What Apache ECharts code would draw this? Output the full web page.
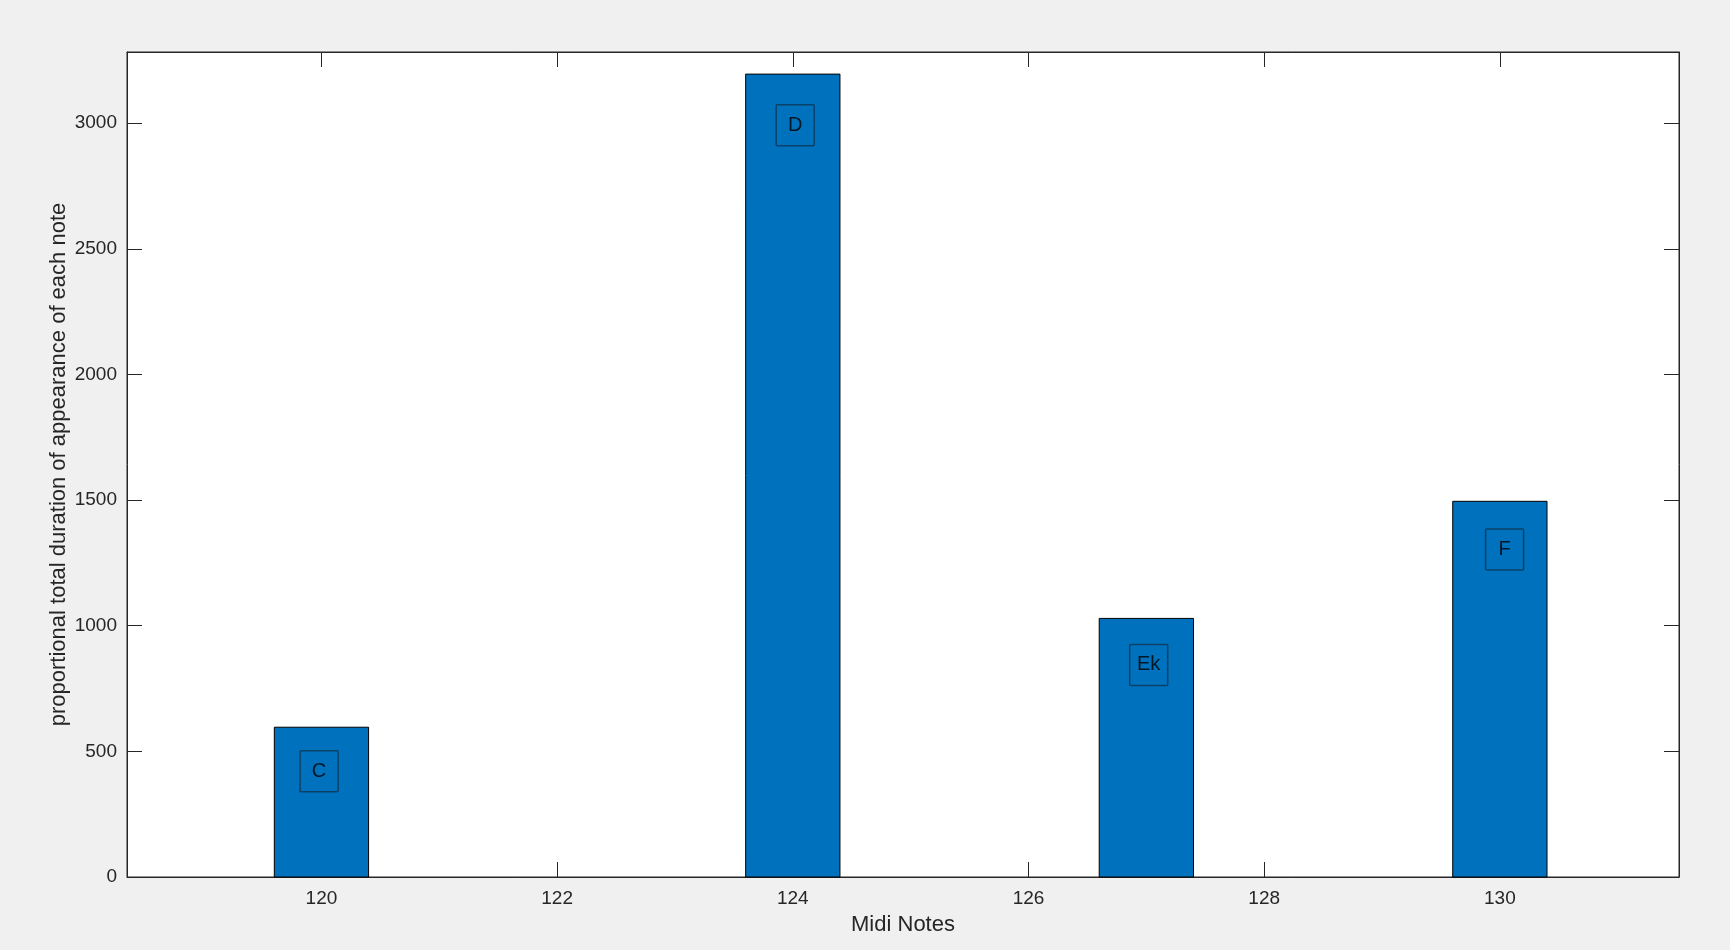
<!DOCTYPE html>
<html>
<head>
<meta charset="utf-8">
<script src="https://cdn.jsdelivr.net/npm/echarts@6/dist/echarts.min.js"></script>
<style>
  html, body { margin: 0; padding: 0; background: #f0f0f0; }
  #barChart { width: 1730px; height: 950px; }
</style>
</head>
<body>
<div id="barChart"></div>
<script>
// midi notes and durations
const notes = [120, 124, 127, 130];
const durations = [596, 3195, 1029, 1495];
const noteNames = ["C", "D", "Ek", "F"];
// where each boxed text annotation sits (data coords)
const labelX = [119.98, 124.02, 127.02, 130.04];
const labelY = [421, 2992, 844, 1303];
const xTicks = [120, 122, 124, 126, 128, 130];
const yTicks = [0, 500, 1000, 1500, 2000, 2500, 3000];

const BAR_WIDTH = 0.8; // in axis units, like matlab bar()
const textColor = "#262626";
const fontFam = "Liberation Sans, Arial, Helvetica, sans-serif";

let chart = echarts.init(document.getElementById("barChart"));

const tickCfg = (vals) => ({
  show: true,
  inside: true,
  length: 15,
  customValues: vals,
  lineStyle: { color: textColor, width: 1 },
});
const lineCfg = {
  show: true,
  onZero: false,
  lineStyle: { color: textColor, width: 1 },
};

let option = {
  backgroundColor: "#f0f0f0",
  animation: false,
  grid: {
    left: 127,
    right: 51,
    top: 52,
    bottom: 73,
    show: true,
    backgroundColor: "#fff",
    borderColor: textColor,
    borderWidth: 1,
  },
  xAxis: [
    {
      type: "value",
      min: 118.35,
      max: 131.52,
      name: "Midi Notes",
      nameLocation: "middle",
      nameGap: 37,
      nameMoveOverlap: false,
      nameTextStyle: { color: textColor, fontSize: 22, fontFamily: fontFam },
      axisLine: lineCfg,
      axisTick: tickCfg(xTicks),
      axisLabel: {
        customValues: xTicks,
        color: textColor,
        fontSize: 19,
        fontFamily: fontFam,
        margin: 12,
      },
      splitLine: { show: false },
    },
    {
      type: "value",
      position: "top",
      min: 118.35,
      max: 131.52,
      axisLine: lineCfg,
      axisTick: tickCfg(xTicks),
      axisLabel: { show: false },
      splitLine: { show: false },
    },
  ],
  yAxis: [
    {
      type: "value",
      min: 0,
      max: 3283,
      name: "proportional total duration of appearance of each note",
      nameLocation: "middle",
      nameGap: 57,
      nameMoveOverlap: false,
      nameTextStyle: { color: textColor, fontSize: 22, fontFamily: fontFam },
      axisLine: lineCfg,
      axisTick: tickCfg(yTicks),
      axisLabel: {
        customValues: yTicks,
        formatter: (v) => String(v),
        color: textColor,
        fontSize: 19,
        fontFamily: fontFam,
        margin: 10,
      },
      splitLine: { show: false },
    },
    {
      type: "value",
      position: "right",
      min: 0,
      max: 3283,
      axisLine: lineCfg,
      axisTick: tickCfg(yTicks),
      axisLabel: { show: false },
      splitLine: { show: false },
    },
  ],
  series: [
    {
      type: "custom",
      xAxisIndex: 0,
      yAxisIndex: 0,
      data: notes.map((n, i) => [n, durations[i]]),
      renderItem: (params, api) => {
        const x = api.value(0);
        const y = api.value(1);
        const p0 = api.coord([x - BAR_WIDTH / 2, y]);
        const p1 = api.coord([x + BAR_WIDTH / 2, 0]);
        return {
          type: "rect",
          shape: { x: p0[0], y: p0[1], width: p1[0] - p0[0], height: p1[1] - p0[1] },
          style: { fill: "#0072BD", stroke: "#000", lineWidth: 1 },
        };
      },
      z: 2,
    },
    {
      type: "scatter",
      xAxisIndex: 0,
      yAxisIndex: 0,
      symbolSize: 0,
      data: noteNames.map((nm, i) => ({ name: nm, value: [labelX[i], labelY[i]] })),
      label: {
        show: true,
        position: "inside",
        formatter: (p) => p.name,
        color: "#000",
        fontSize: 20,
        fontFamily: fontFam,
        width: 38,
        height: 41,
        lineHeight: 41,
        align: "center",
        verticalAlign: "middle",
        borderColor: "#0c3452",
        borderWidth: 1.5,
        borderRadius: 1,
        padding: 0,
      },
      z: 5,
    },
  ],
};

chart.setOption(option);
window.addEventListener("resize", () => chart.resize(), true);
</script>
</body>
</html>
